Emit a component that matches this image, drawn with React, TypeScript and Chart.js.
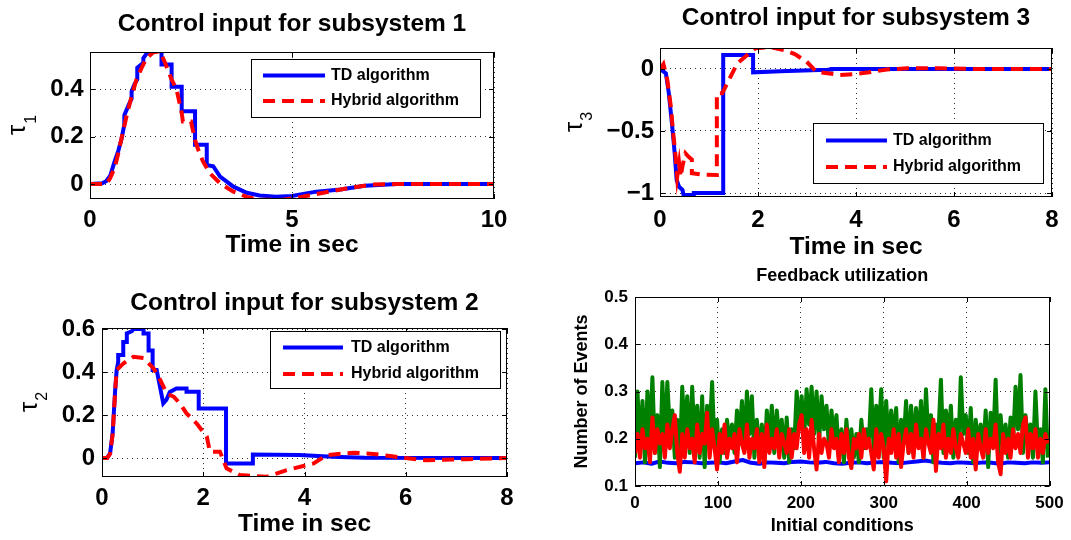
import React, { useEffect, useRef } from "react";
import { Chart, registerables } from "chart.js";

Chart.register(...registerables);

const PAGE_W = 1071;
const PAGE_H = 540;
const FONT = '"Liberation Sans", Arial, Helvetica, sans-serif';

const TD_BLUE = "#0000ff";
const HYBRID_RED = "#ff0000";
const THIRD_GREEN = "#008000";

// Subsystem 1 control input (time in s, tau_1)
const sub1TdTime = [0, 0.3, 0.4, 0.5, 0.6, 0.7, 0.78, 0.85, 0.85, 0.95, 1.03, 1.03, 1.1, 1.17, 1.17, 1.32, 1.32, 1.45, 1.77, 1.77, 2.02, 2.02, 2.27, 2.27, 2.6, 2.6, 2.89, 2.89, 3.05, 3.22, 3.55, 3.88, 4.2, 4.6, 5.0, 5.6, 6.2, 6.8, 7.6, 10];
const sub1TdTau = [0, 0.003, 0.012, 0.035, 0.09, 0.14, 0.19, 0.25, 0.29, 0.33, 0.36, 0.39, 0.42, 0.44, 0.49, 0.51, 0.53, 0.56, 0.56, 0.503, 0.503, 0.41, 0.41, 0.306, 0.306, 0.165, 0.165, 0.08, 0.075, 0.031, -0.011, -0.037, -0.048, -0.053, -0.05, -0.032, -0.023, -0.007, 0, 0];
const sub1HyTime = [0, 0.3, 0.41, 0.5, 0.62, 0.7, 0.79, 0.91, 1.03, 1.15, 1.28, 1.4, 1.57, 1.73, 1.86, 2.02, 2.14, 2.27, 2.3, 2.5, 2.6, 2.68, 2.8, 2.97, 3.22, 3.55, 3.88, 4.2, 4.8, 5.2, 5.6, 6.3, 7.0, 7.6, 10];
const sub1HyTau = [0, 0, 0.002, 0.025, 0.073, 0.13, 0.2, 0.29, 0.37, 0.44, 0.49, 0.53, 0.555, 0.56, 0.51, 0.44, 0.4, 0.3, 0.263, 0.263, 0.186, 0.144, 0.094, 0.045, 0.003, -0.032, -0.054, -0.066, -0.066, -0.055, -0.042, -0.02, -0.002, 0, 0];
const sub1XTicks = [0, 5, 10];
const sub1XTickLabels = ["0", "5", "10"];
const sub1YTicks = [0, 0.2, 0.4];
const sub1YTickLabels = ["0", "0.2", "0.4"];

// Subsystem 2 control input (time in s, tau_2)
const sub2TdTime = [0, 0.1, 0.16, 0.21, 0.26, 0.29, 0.32, 0.32, 0.42, 0.42, 0.49, 0.49, 0.59, 0.62, 0.82, 0.82, 0.92, 0.92, 1.0, 1.0, 1.08, 1.21, 1.27, 1.34, 1.47, 1.67, 1.67, 1.91, 1.91, 2.45, 2.45, 2.98, 2.98, 3.9, 4.55, 5.2, 8];
const sub2TdTau = [0, 0, 0.022, 0.115, 0.316, 0.41, 0.448, 0.48, 0.48, 0.54, 0.54, 0.58, 0.59, 0.6, 0.6, 0.58, 0.58, 0.5, 0.5, 0.41, 0.41, 0.254, 0.27, 0.308, 0.324, 0.324, 0.309, 0.309, 0.231, 0.231, -0.025, -0.025, 0.017, 0.014, 0.006, 0.002, 0];
const sub2HyTime = [0, 0.1, 0.16, 0.21, 0.26, 0.29, 0.42, 0.62, 0.82, 1.02, 1.15, 1.28, 1.42, 1.54, 1.67, 1.87, 2.07, 2.13, 2.33, 2.46, 2.72, 3.25, 3.65, 4.18, 4.44, 4.97, 5.36, 5.69, 5.99, 6.4, 7.2, 8];
const sub2HyTau = [0, 0, 0.02, 0.11, 0.31, 0.41, 0.44, 0.471, 0.465, 0.417, 0.363, 0.3, 0.285, 0.254, 0.208, 0.161, 0.1, 0.03, 0.03, -0.048, -0.079, -0.087, -0.056, -0.025, 0.014, 0.025, 0.019, 0.01, 0, -0.01, -0.005, 0];
const sub2XTicks = [0, 2, 4, 6, 8];
const sub2XTickLabels = ["0", "2", "4", "6", "8"];
const sub2YTicks = [0, 0.2, 0.4, 0.6];
const sub2YTickLabels = ["0", "0.2", "0.4", "0.6"];

// Subsystem 3 control input (time in s, tau_3)
const sub3TdTime = [0, 0.12, 0.18, 0.25, 0.3, 0.34, 0.39, 0.46, 0.48, 0.69, 0.69, 1.29, 1.29, 1.9, 1.9, 2.46, 3.41, 3.5, 3.5, 8];
const sub3TdTau = [0, -0.035, -0.196, -0.465, -0.68, -0.895, -0.95, -0.976, -1.016, -1.016, -1.0, -1.0, 0.113, 0.113, -0.027, -0.018, -0.007, -0.005, 0, 0];
const sub3HyTime = [0, 0.07, 0.15, 0.22, 0.27, 0.32, 0.35, 0.39, 0.42, 0.46, 0.52, 0.59, 0.65, 0.65, 0.83, 1.16, 1.16, 1.27, 1.44, 1.58, 1.78, 1.95, 2.26, 2.53, 2.75, 2.99, 3.19, 3.67, 4.0, 4.35, 4.63, 5.04, 5.72, 6.4, 8];
const sub3HyTau = [0, 0.04, -0.09, -0.3, -0.52, -0.71, -0.87, -0.76, -0.87, -0.78, -0.68, -0.71, -0.73, -0.84, -0.85, -0.855, -0.196, -0.196, -0.062, 0.046, 0.113, 0.167, 0.175, 0.153, 0.12, 0.06, -0.022, -0.048, -0.04, -0.022, -0.004, 0.005, 0.005, 0, 0];
const sub3XTicks = [0, 2, 4, 6, 8];
const sub3XTickLabels = ["0", "2", "4", "6", "8"];
const sub3YTicks = [-1, -0.5, 0];
const sub3YTickLabels = ["\u22121", "\u22120.5", "0"];

// Feedback utilization over 500 initial conditions
const eventSampleStep = 3;
const greenEvents = [
  0.16, 0.30, 0.18, 0.28, 0.15, 0.30, 0.20, 0.33, 0.17, 0.25,
  0.14, 0.32, 0.19, 0.32, 0.22, 0.26, 0.16, 0.24, 0.15, 0.31,
  0.20, 0.29, 0.17, 0.31, 0.19, 0.27, 0.16, 0.29, 0.14, 0.27,
  0.21, 0.32, 0.18, 0.24, 0.15, 0.22, 0.17, 0.24, 0.19, 0.23,
  0.17, 0.26, 0.20, 0.28, 0.18, 0.30, 0.21, 0.29, 0.16, 0.24,
  0.17, 0.23, 0.15, 0.26, 0.19, 0.27, 0.17, 0.26, 0.20, 0.24,
  0.16, 0.245, 0.15, 0.22, 0.18, 0.30, 0.22, 0.29, 0.20, 0.305,
  0.23, 0.31, 0.21, 0.30, 0.19, 0.29, 0.22, 0.27, 0.18, 0.26,
  0.20, 0.25, 0.16, 0.22, 0.15, 0.24, 0.17, 0.22, 0.16, 0.21,
  0.15, 0.24, 0.18, 0.22, 0.19, 0.305, 0.17, 0.27, 0.21, 0.305,
  0.16, 0.28, 0.18, 0.26, 0.20, 0.265, 0.15, 0.24, 0.19, 0.28,
  0.17, 0.27, 0.18, 0.265, 0.20, 0.28, 0.16, 0.305, 0.19, 0.25,
  0.15, 0.23, 0.21, 0.325, 0.17, 0.26, 0.20, 0.27, 0.16, 0.24,
  0.18, 0.33, 0.21, 0.25, 0.17, 0.265, 0.15, 0.24, 0.19, 0.23,
  0.17, 0.26, 0.14, 0.255, 0.19, 0.325, 0.16, 0.25, 0.18, 0.23,
  0.16, 0.245, 0.19, 0.31, 0.22, 0.335, 0.17, 0.25, 0.20, 0.23,
  0.16, 0.30, 0.18, 0.22, 0.15, 0.305, 0.16,
];
const redEvents = [
  0.17, 0.21, 0.16, 0.22, 0.18, 0.20, 0.15, 0.245, 0.17, 0.22,
  0.19, 0.21, 0.16, 0.23, 0.18, 0.22, 0.25, 0.17, 0.13, 0.21,
  0.16, 0.22, 0.18, 0.20, 0.15, 0.23, 0.17, 0.21, 0.19, 0.255,
  0.16, 0.22, 0.18, 0.135, 0.21, 0.17, 0.23, 0.16, 0.20, 0.18,
  0.21, 0.15, 0.22, 0.19, 0.17, 0.23, 0.16, 0.20, 0.18, 0.22,
  0.15, 0.21, 0.14, 0.23, 0.17, 0.20, 0.18, 0.22, 0.16, 0.21,
  0.19, 0.17, 0.22, 0.16, 0.21, 0.18, 0.23, 0.25, 0.17, 0.22,
  0.16, 0.24, 0.18, 0.135, 0.21, 0.17, 0.20, 0.19, 0.16, 0.22,
  0.18, 0.20, 0.15, 0.21, 0.17, 0.22, 0.16, 0.138, 0.20, 0.18,
  0.21, 0.16, 0.22, 0.18, 0.20, 0.17, 0.135, 0.22, 0.16, 0.21,
  0.18, 0.11, 0.20, 0.17, 0.22, 0.16, 0.21, 0.14, 0.19, 0.22,
  0.17, 0.21, 0.16, 0.23, 0.18, 0.20, 0.16, 0.22, 0.19, 0.17,
  0.24, 0.132, 0.21, 0.18, 0.23, 0.16, 0.20, 0.17, 0.22, 0.18,
  0.16, 0.21, 0.19, 0.17, 0.22, 0.16, 0.20, 0.135, 0.21, 0.18,
  0.16, 0.22, 0.17, 0.20, 0.18, 0.23, 0.15, 0.125, 0.21, 0.17,
  0.20, 0.16, 0.22, 0.18, 0.21, 0.17, 0.23, 0.245, 0.16, 0.21,
  0.18, 0.22, 0.16, 0.20, 0.17, 0.21, 0.19,
];
const blueEventStep = 10;
const blueEvents = [
  0.148, 0.150, 0.147, 0.152, 0.149, 0.148, 0.151, 0.150, 0.148, 0.149, 0.150,
  0.148, 0.152, 0.155, 0.149, 0.147, 0.150, 0.149, 0.148, 0.151, 0.152,
  0.150, 0.149, 0.151, 0.148, 0.147, 0.149, 0.150, 0.148, 0.150, 0.151,
  0.149, 0.148, 0.150, 0.152, 0.154, 0.151, 0.149, 0.148, 0.150, 0.149,
  0.148, 0.150, 0.149, 0.147, 0.150, 0.149, 0.148, 0.150, 0.149, 0.150,
];
const eventsXTicks = [0, 100, 200, 300, 400, 500];
const eventsXTickLabels = ["0", "100", "200", "300", "400", "500"];
const eventsYTicks = [0.1, 0.2, 0.3, 0.4, 0.5];
const eventsYTickLabels = ["0.1", "0.2", "0.3", "0.4", "0.5"];

type Pt = { x: number; y: number };

interface SeriesSpec {
  label: string;
  points: Pt[];
  color: string;
  width: number;
  dash?: number[];
  order: number;
}

interface LegendSpec {
  left: number;
  top: number;
  width: number;
  height: number;
  rows: number[];
  lineFrom: number;
  lineTo: number;
  textX: number;
  fontSize: number;
}

// Symbol with a lowered subscript, drawn rotated beside the y axis
interface SubscriptTitle {
  symbol: string;
  sub: string;
  offsetX: number; // baseline position relative to the plot's left edge
  size: number;
  subSize: number;
  drop: number;
}

interface PanelSpec {
  area: { left: number; top: number; right: number; bottom: number };
  yAxisWidth: number;
  xAxisHeight: number;
  x: { min: number; max: number; ticks: number[]; labels: string[]; pad: number };
  y: { min: number; max: number; ticks: number[]; labels: string[]; pad: number };
  tickSize: number;
  xTitle: string;
  xTitleSize: number;
  yTitle: string;
  yTitleSize: number;
  yTitleSub?: SubscriptTitle;
  title: string;
  titleSize: number;
  titleGap: number;
  join: CanvasLineJoin;
  series: SeriesSpec[];
  legend?: LegendSpec;
}

const zip = (xs: number[], ys: number[]): Pt[] => xs.map((x, i) => ({ x, y: ys[i] }));
const sampled = (ys: number[], step: number): Pt[] => ys.map((y, i) => ({ x: i * step, y }));

const panelDecor = {
  id: "panelDecor",
  afterDraw(chart: any, _args: any, opts: any) {
    const spec: PanelSpec = opts.spec;
    const { ctx, chartArea } = chart;
    const { left, top, right, bottom } = chartArea;
    ctx.save();

    // axes box with inward tick marks
    ctx.strokeStyle = "#000";
    ctx.lineWidth = 1;
    ctx.setLineDash([]);
    ctx.strokeRect(Math.round(left) + 0.5, Math.round(top) + 0.5, Math.round(right - left) - 1, Math.round(bottom - top) - 1);
    const tl = 5;
    ctx.beginPath();
    for (const t of chart.scales.x.ticks) {
      const px = Math.round(chart.scales.x.getPixelForValue(t.value)) + 0.5;
      ctx.moveTo(px, bottom);
      ctx.lineTo(px, bottom - tl);
      ctx.moveTo(px, top);
      ctx.lineTo(px, top + tl);
    }
    for (const t of chart.scales.y.ticks) {
      const py = Math.round(chart.scales.y.getPixelForValue(t.value)) + 0.5;
      ctx.moveTo(left, py);
      ctx.lineTo(left + tl, py);
      ctx.moveTo(right, py);
      ctx.lineTo(right - tl, py);
    }
    ctx.stroke();

    // panel title
    ctx.fillStyle = "#000";
    ctx.font = `bold ${spec.titleSize}px ${FONT}`;
    ctx.textAlign = "center";
    ctx.textBaseline = "middle";
    ctx.fillText(spec.title, (left + right) / 2, top - spec.titleGap);

    // rotated y label with subscript
    const st = spec.yTitleSub;
    if (st) {
      ctx.save();
      ctx.translate(left + st.offsetX, (top + bottom) / 2);
      ctx.rotate(-Math.PI / 2);
      ctx.textAlign = "left";
      ctx.textBaseline = "alphabetic";
      ctx.font = `${st.size}px ${FONT}`;
      const w1 = ctx.measureText(st.symbol).width;
      ctx.font = `${st.subSize}px ${FONT}`;
      const w2 = ctx.measureText(st.sub).width;
      const x0 = -(w1 + w2) / 2;
      ctx.font = `${st.size}px ${FONT}`;
      ctx.fillText(st.symbol, x0, 0);
      ctx.font = `${st.subSize}px ${FONT}`;
      ctx.fillText(st.sub, x0 + w1 + 1, st.drop);
      ctx.restore();
    }

    // boxed legend
    const lg = spec.legend;
    if (lg) {
      ctx.fillStyle = "#fff";
      ctx.fillRect(lg.left, lg.top, lg.width, lg.height);
      ctx.strokeStyle = "#000";
      ctx.lineWidth = 1;
      ctx.strokeRect(lg.left + 0.5, lg.top + 0.5, lg.width, lg.height);
      chart.data.datasets.forEach((ds: any, i: number) => {
        const y = lg.rows[i];
        ctx.save();
        ctx.strokeStyle = ds.borderColor;
        ctx.lineWidth = ds.borderWidth;
        ctx.setLineDash(ds.borderDash || []);
        ctx.beginPath();
        ctx.moveTo(lg.lineFrom, y);
        ctx.lineTo(lg.lineTo, y);
        ctx.stroke();
        ctx.restore();
        ctx.fillStyle = "#000";
        ctx.font = `bold ${lg.fontSize}px ${FONT}`;
        ctx.textAlign = "left";
        ctx.textBaseline = "middle";
        ctx.fillText(ds.label, lg.textX, y);
      });
    }
    ctx.restore();
  },
};

function buildConfig(spec: PanelSpec): any {
  const tickFont = { family: FONT, size: spec.tickSize, weight: "bold" };
  const grid = { color: "rgba(0,0,0,0.8)", lineWidth: 1, drawTicks: false };
  const border = { display: false, dash: [1, 4] };
  return {
    type: "line",
    data: {
      datasets: spec.series.map((s) => ({
        label: s.label,
        data: s.points,
        borderColor: s.color,
        backgroundColor: s.color,
        borderWidth: s.width,
        borderDash: s.dash || [],
        borderJoinStyle: spec.join,
        borderCapStyle: "butt",
        pointRadius: 0,
        pointHoverRadius: 0,
        tension: 0,
        fill: false,
        clip: 0,
        order: s.order,
      })),
    },
    options: {
      responsive: false,
      animation: false,
      devicePixelRatio: 1,
      events: [],
      layout: {
        padding: {
          left: spec.area.left - spec.yAxisWidth,
          top: spec.area.top,
          right: PAGE_W - spec.area.right,
          bottom: PAGE_H - spec.area.bottom - spec.xAxisHeight,
        },
      },
      plugins: {
        legend: { display: false },
        tooltip: { enabled: false },
        title: { display: false },
        panelDecor: { spec },
      },
      scales: {
        x: {
          type: "linear",
          min: spec.x.min,
          max: spec.x.max,
          grid,
          border,
          afterBuildTicks: (s: any) => {
            s.ticks = spec.x.ticks.map((value) => ({ value }));
          },
          afterFit: (s: any) => {
            s.height = spec.xAxisHeight;
          },
          ticks: {
            autoSkip: false,
            maxRotation: 0,
            padding: spec.x.pad,
            color: "#000",
            font: tickFont,
            callback: (v: number) => spec.x.labels[spec.x.ticks.indexOf(v)],
          },
          title: {
            display: true,
            text: spec.xTitle,
            color: "#000",
            padding: 0,
            font: { family: FONT, size: spec.xTitleSize, weight: "bold" },
          },
        },
        y: {
          type: "linear",
          min: spec.y.min,
          max: spec.y.max,
          grid,
          border,
          afterBuildTicks: (s: any) => {
            s.ticks = spec.y.ticks.map((value) => ({ value }));
          },
          afterFit: (s: any) => {
            s.width = spec.yAxisWidth;
          },
          ticks: {
            autoSkip: false,
            padding: spec.y.pad,
            color: "#000",
            font: tickFont,
            callback: (v: number) => spec.y.labels[spec.y.ticks.indexOf(v)],
          },
          title: {
            display: !spec.yTitleSub,
            text: spec.yTitle,
            color: "#000",
            padding: 0,
            font: { family: FONT, size: spec.yTitleSize, weight: "bold" },
          },
        },
      },
    },
    plugins: [panelDecor],
  };
}

const panels: PanelSpec[] = [
  {
    area: { left: 90, top: 52, right: 494, bottom: 199 },
    yAxisWidth: 87,
    xAxisHeight: 61,
    x: { min: 0, max: 10, ticks: sub1XTicks, labels: sub1XTickLabels, pad: 7 },
    y: { min: -0.063, max: 0.556, ticks: sub1YTicks, labels: sub1YTickLabels, pad: 6.5 },
    tickSize: 24,
    xTitle: "Time in sec",
    xTitleSize: 24.5,
    yTitle: "\u03c4",
    yTitleSize: 23,
    yTitleSub: { symbol: "\u03c4", sub: "1", offsetX: -65, size: 26, subSize: 16, drop: 10.5 },
    title: "Control input for subsystem 1",
    titleSize: 24.5,
    titleGap: 27.5,
    join: "miter",
    series: [
      { label: "TD algorithm", points: zip(sub1TdTime, sub1TdTau), color: TD_BLUE, width: 4, order: 1 },
      { label: "Hybrid algorithm", points: zip(sub1HyTime, sub1HyTau), color: HYBRID_RED, width: 4, dash: [12, 7], order: 0 },
    ],
    legend: { left: 251, top: 59, width: 229, height: 58, rows: [75.5, 101], lineFrom: 263, lineTo: 325, textX: 331, fontSize: 16 },
  },
  {
    area: { left: 660, top: 48, right: 1052, bottom: 197 },
    yAxisWidth: 100,
    xAxisHeight: 65,
    x: { min: 0, max: 8, ticks: sub3XTicks, labels: sub3XTickLabels, pad: 8.5 },
    y: { min: -1.032, max: 0.169, ticks: sub3YTicks, labels: sub3YTickLabels, pad: 6 },
    tickSize: 24,
    xTitle: "Time in sec",
    xTitleSize: 24.5,
    yTitle: "\u03c4",
    yTitleSize: 23,
    yTitleSub: { symbol: "\u03c4", sub: "3", offsetX: -78.3, size: 26, subSize: 16, drop: 10 },
    title: "Control input for subsystem 3",
    titleSize: 24.5,
    titleGap: 29.7,
    join: "miter",
    series: [
      { label: "TD algorithm", points: zip(sub3TdTime, sub3TdTau), color: TD_BLUE, width: 4, order: 1 },
      { label: "Hybrid algorithm", points: zip(sub3HyTime, sub3HyTau), color: HYBRID_RED, width: 4, dash: [12, 7], order: 0 },
    ],
    legend: { left: 813, top: 123, width: 230, height: 60, rows: [140.5, 167], lineFrom: 826, lineTo: 887, textX: 893, fontSize: 16 },
  },
  {
    area: { left: 102, top: 328, right: 507, bottom: 477 },
    yAxisWidth: 87,
    xAxisHeight: 62,
    x: { min: 0, max: 8, ticks: sub2XTicks, labels: sub2XTickLabels, pad: 7 },
    y: { min: -0.088, max: 0.605, ticks: sub2YTicks, labels: sub2YTickLabels, pad: 7 },
    tickSize: 24,
    xTitle: "Time in sec",
    xTitleSize: 24.5,
    yTitle: "\u03c4",
    yTitleSize: 23,
    yTitleSub: { symbol: "\u03c4", sub: "2", offsetX: -65.3, size: 26, subSize: 16, drop: 10.5 },
    title: "Control input for subsystem 2",
    titleSize: 24.5,
    titleGap: 25,
    join: "miter",
    series: [
      { label: "TD algorithm", points: zip(sub2TdTime, sub2TdTau), color: TD_BLUE, width: 4, order: 1 },
      { label: "Hybrid algorithm", points: zip(sub2HyTime, sub2HyTau), color: HYBRID_RED, width: 4, dash: [12, 7], order: 0 },
    ],
    legend: { left: 270, top: 331, width: 230, height: 57, rows: [347.5, 374], lineFrom: 283, lineTo: 343, textX: 351, fontSize: 16 },
  },
  {
    area: { left: 635, top: 297, right: 1051, bottom: 486 },
    yAxisWidth: 63.3,
    xAxisHeight: 51,
    x: { min: 0, max: 500, ticks: eventsXTicks, labels: eventsXTickLabels, pad: 7.3 },
    y: { min: 0.1, max: 0.5, ticks: eventsYTicks, labels: eventsYTickLabels, pad: 7 },
    tickSize: 17,
    xTitle: "Initial conditions",
    xTitleSize: 18,
    yTitle: "Number of Events",
    yTitleSize: 18,
    title: "Feedback utilization",
    titleSize: 18,
    titleGap: 21,
    join: "round",
    series: [
      { label: "TD algorithm", points: sampled(blueEvents, blueEventStep), color: TD_BLUE, width: 4, order: 2 },
      { label: "Comparison algorithm", points: sampled(greenEvents, eventSampleStep), color: THIRD_GREEN, width: 4, order: 1 },
      { label: "Hybrid algorithm", points: sampled(redEvents, eventSampleStep), color: HYBRID_RED, width: 4, order: 0 },
    ],
  },
];

function Panel({ spec }: { spec: PanelSpec }) {
  const ref = useRef<HTMLCanvasElement>(null);
  useEffect(() => {
    if (!ref.current) return;
    const chart = new Chart(ref.current, buildConfig(spec));
    return () => chart.destroy();
  }, [spec]);
  return (
    <canvas
      ref={ref}
      width={PAGE_W}
      height={PAGE_H}
      style={{ position: "absolute", left: 0, top: 0, width: PAGE_W, height: PAGE_H }}
    />
  );
}

export default function App() {
  return (
    <div style={{ position: "absolute", left: 0, top: 0, width: PAGE_W, height: PAGE_H, background: "#fff", overflow: "hidden" }}>
      {panels.map((p, i) => (
        <Panel key={i} spec={p} />
      ))}
    </div>
  );
}
